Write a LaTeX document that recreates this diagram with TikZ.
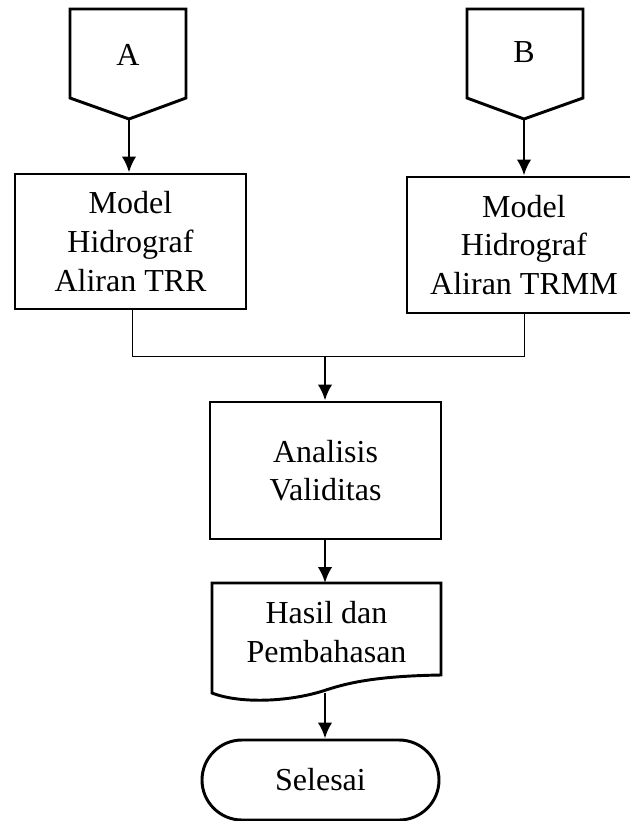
\documentclass[tikz,border=0pt]{standalone}
\usepackage{fontspec}
\setmainfont{Liberation Serif}
\usepackage{tikz}
\usetikzlibrary{arrows.meta,calc,positioning,shapes}

\begin{document}
\begin{tikzpicture}[x=0.75pt,y=-0.75pt,>={Latex[length=12pt,width=11pt]},line width=2.2pt]
	\tikzstyle{block} = [draw, rectangle, align=center, font=\fontsize{24}{29}\selectfont]
	\tikzstyle{txt} = [align=center, font=\fontsize{24}{29}\selectfont]
	\tikzstyle{thin} = [line width=0.6pt]
	\useasboundingbox (0,0) rectangle (630,821);
	
	% off-page connectors
	\draw (70,9) -- (186,9) -- (186,98) -- (129,119) -- (70,98) -- cycle;
	\node [txt] (offa) at (128,55) {A};
	\coordinate (tipa) at (129,119);
	\draw (467,9) -- (583,9) -- (583,98) -- (524,119) -- (467,98) -- cycle;
	\node [txt] (offb) at (524,52) {B};
	\coordinate (tipb) at (524,119);
	
	\node [block, minimum width=173.25pt, minimum height=101.25pt] (trr) at (130.5,241.5) {Model\\Hidrograf\\Aliran TRR};
	\node [block, minimum width=175.5pt, minimum height=102pt] (trmm) at (524,245) {Model\\Hidrograf\\Aliran TRMM};
	
	\coordinate (c1) at (132,356);
	\coordinate (c2) at (524,356);
	\coordinate (c0) at (325,356);
	
	\node [block, minimum width=173.25pt, minimum height=102.75pt] (valid) at (325.5,470.5) {Analisis\\Validitas};
	
	% document shape
	\draw (212,583) -- (441,583) -- (441,675) .. controls (380,676) and (350,682) .. (326,690) .. controls (290,702) and (240,704) .. (212,693) -- cycle;
	\node [txt] (hasil) at (326.5,632) {Hasil dan\\Pembahasan};
	\coordinate (dtop) at (325,583);
	\coordinate (dbot) at (325,693);
	
	\node [block, rounded corners=30pt, minimum width=177.75pt, minimum height=60pt] (selesai) at (320.5,780) {Selesai};
	
	\draw [->] (tipa) -- (tipa |- trr.north);
	\draw [->] (tipb) -- (trmm.north);
	\draw [thin] (c1 |- trr.south) -- (c1) -- (c2) -- (trmm.south);
	\draw [->] (c0) -- (c0 |- valid.north);
	\draw [->] (c0 |- valid.south) -- (dtop);
	\draw [->] (dbot) -- (dbot |- selesai.north);
\end{tikzpicture}
\end{document}
